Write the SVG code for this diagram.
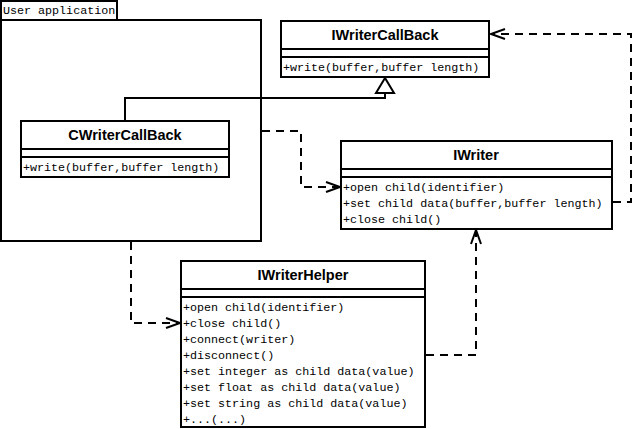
<svg xmlns="http://www.w3.org/2000/svg" width="633" height="429" viewBox="0 0 633 429">
<defs>
<style>
.box{fill:#fff;stroke:#000;stroke-width:2}
.ln{stroke:#000;stroke-width:2;fill:none}
.nm{font-family:"Liberation Sans",Arial,sans-serif;font-weight:bold;font-size:14.5px;text-anchor:middle;fill:#000}
.op{font-family:"Liberation Mono","Courier New",monospace;font-size:11.7px;fill:#000}
.dash{stroke:#000;stroke-width:2;fill:none;stroke-dasharray:8,6}
.solid{stroke:#000;stroke-width:2;fill:none}
</style>
<marker id="open" markerUnits="userSpaceOnUse" markerWidth="20" markerHeight="14" refX="0" refY="0" viewBox="-16 -7 18 14" orient="auto" overflow="visible">
<path d="M-14,-5 L0,0 L-14,5" fill="none" stroke="#000" stroke-width="2"/>
</marker>
</defs>
<rect width="633" height="429" fill="#fff"/>

<g id="package-user-application">
<rect class="box" x="1" y="1" width="116" height="19"/>
<rect class="box" x="1" y="20" width="260" height="221"/>
<text class="op" x="3" y="14">User application</text>
</g>

<g id="connectors">
<path class="solid" d="M125,121 V98 H385 V93"/>
<polygon points="385,78 376,93 394,93" fill="#fff" stroke="#000" stroke-width="2"/>
<path class="dash" d="M262,131 H301 V187 H340" marker-end="url(#open)"/>
<path class="dash" d="M613,202 H631 V34 H491" marker-end="url(#open)"/>
<path class="dash" d="M131,242 V323 H180" marker-end="url(#open)"/>
<path class="dash" d="M426,355 H476 V230" marker-end="url(#open)"/>
</g>

<g id="CWriterCallBack">
<rect class="box" x="21" y="121" width="208" height="56"/>
<path class="ln" d="M21,149 H229 M21,157 H229"/>
<text class="nm" x="125" y="140">CWriterCallBack</text>
<text class="op" x="23" y="171">+write(buffer,buffer length)</text>
</g>

<g id="IWriterCallBack">
<rect class="box" x="281" y="21" width="208" height="56"/>
<path class="ln" d="M281,49 H489 M281,57 H489"/>
<text class="nm" x="385" y="40">IWriterCallBack</text>
<text class="op" x="283" y="71">+write(buffer,buffer length)</text>
</g>

<g id="IWriter">
<rect class="box" x="341" y="141" width="271" height="88"/>
<path class="ln" d="M341,169 H612 M341,177 H612"/>
<text class="nm" x="476" y="160">IWriter</text>
<text class="op" x="343" y="191">+open child(identifier)</text>
<text class="op" x="343" y="207">+set child data(buffer,buffer length)</text>
<text class="op" x="343" y="223">+close child()</text>
</g>

<g id="IWriterHelper">
<rect class="box" x="181" y="261" width="244" height="166"/>
<path class="ln" d="M181,289 H425 M181,297 H425"/>
<text class="nm" x="303" y="280">IWriterHelper</text>
<text class="op" x="183" y="311">+open child(identifier)</text>
<text class="op" x="183" y="327">+close child()</text>
<text class="op" x="183" y="343">+connect(writer)</text>
<text class="op" x="183" y="359">+disconnect()</text>
<text class="op" x="183" y="375">+set integer as child data(value)</text>
<text class="op" x="183" y="391">+set float as child data(value)</text>
<text class="op" x="183" y="407">+set string as child data(value)</text>
<text class="op" x="183" y="423">+...(...)</text>
</g>
</svg>
